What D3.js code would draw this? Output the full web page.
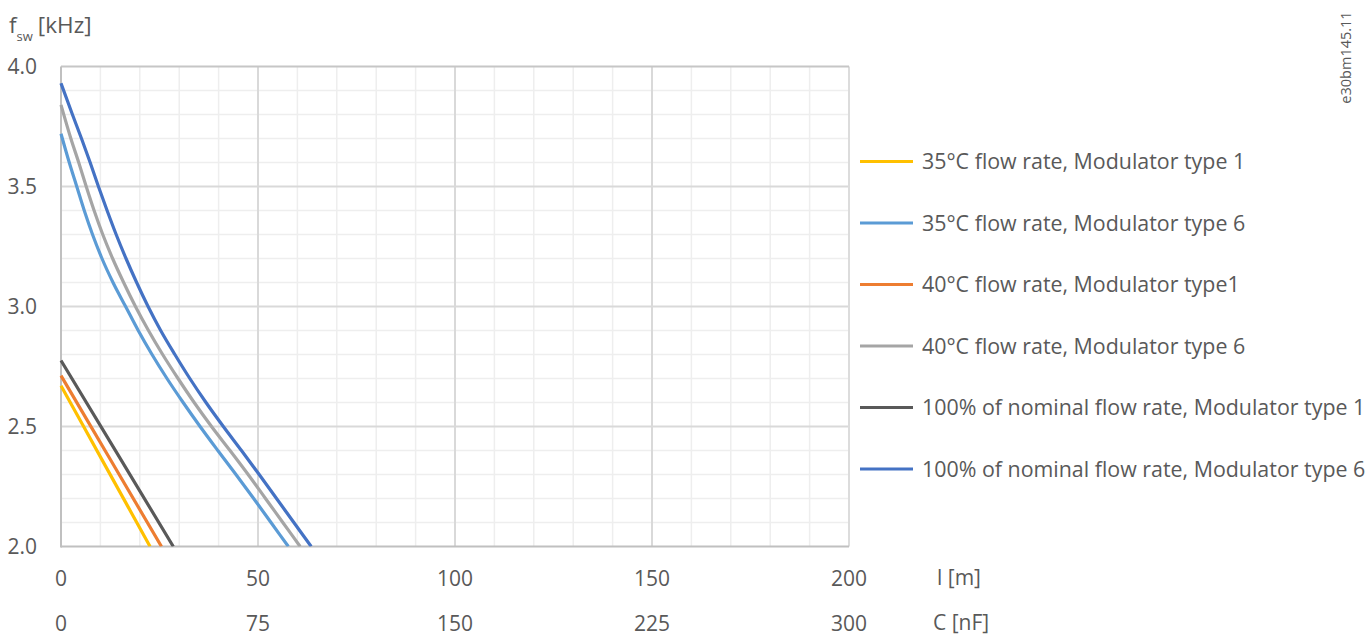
<!DOCTYPE html>
<html>
<head>
<meta charset="utf-8">
<script src="https://cdn.jsdelivr.net/npm/d3@7"></script>
<style>
  html, body { margin: 0; padding: 0; background: #fff; }
  svg { display: block; font-family: "Open Sans", "Noto Sans", sans-serif; }
  text { fill: #595959; }
</style>
</head>
<body>
<svg id="chart" width="1370" height="637"></svg>
<script>
// Axis ticks
const lengthTicks = [0, 50, 100, 150, 200];          // cable length l [m]
const capTicks = [0, 75, 150, 225, 300];             // cable capacitance C [nF]
const fswTicks = [2.0, 2.5, 3.0, 3.5, 4.0];          // switching frequency [kHz]

// Series: cable length [m] against max. switching frequency [kHz]
const seriesNames = [
  "35°C flow rate, Modulator type 1",
  "35°C flow rate, Modulator type 6",
  "40°C flow rate, Modulator type1",
  "40°C flow rate, Modulator type 6",
  "100% of nominal flow rate, Modulator type 1",
  "100% of nominal flow rate, Modulator type 6"
];
const seriesColors = ["#FFC000", "#5B9BD5", "#ED7D31", "#A5A5A5", "#595959", "#4472C4"];

const flow35Type1 = [[0, 2.67], [11.3, 2.335], [22.6, 2.0]];
const flow35Type6 = [[0, 3.72], [2.1, 3.6], [4.0, 3.5], [5.9, 3.4], [8.0, 3.3], [10.4, 3.2],
  [13.2, 3.1], [16.4, 3.0], [19.6, 2.9], [23.1, 2.8], [26.9, 2.7], [31.0, 2.6], [35.3, 2.5],
  [39.8, 2.4], [44.4, 2.3], [48.9, 2.2], [53.3, 2.1], [57.7, 2.0]];
const flow40Type1 = [[0, 2.712], [12.75, 2.356], [25.5, 2.0]];
const flow40Type6 = [[0, 3.84], [2.5, 3.7], [4.5, 3.6], [6.4, 3.5], [8.4, 3.4], [10.6, 3.3],
  [13.1, 3.2], [15.9, 3.1], [18.9, 3.0], [22.2, 2.9], [25.8, 2.8], [29.7, 2.7], [33.8, 2.6],
  [38.2, 2.5], [42.9, 2.4], [47.5, 2.3], [51.9, 2.2], [56.3, 2.1], [60.7, 2.0]];
const nominalType1 = [[0, 2.775], [14.25, 2.388], [28.5, 2.0]];
const nominalType6 = [[0, 3.93], [2.9, 3.8], [5.2, 3.7], [7.4, 3.6], [9.5, 3.5],
  [11.7, 3.4], [14.0, 3.3], [16.5, 3.2], [19.2, 3.1], [22.1, 3.0], [25.3, 2.9], [28.9, 2.8],
  [32.7, 2.7], [36.8, 2.6], [41.2, 2.5], [45.8, 2.4], [50.3, 2.3], [54.7, 2.2], [59.1, 2.1],
  [63.5, 2.0]];

const seriesData = [flow35Type1, flow35Type6, flow40Type1, flow40Type6, nominalType1, nominalType6];

const svg = d3.select("#chart");
const plot = { left: 61, right: 849, top: 66.5, bottom: 546.5 };

const x = d3.scaleLinear().domain([0, 200]).range([plot.left, plot.right]);
const xCap = d3.scaleLinear().domain([0, 300]).range([plot.left, plot.right]);
const y = d3.scaleLinear().domain([2, 4]).range([plot.bottom, plot.top]);

// Minor grid
const grid = svg.append("g");
grid.selectAll("line.vminor")
  .data(d3.range(10, 200, 10).filter(v => v % 50 !== 0))
  .join("line")
  .attr("x1", d => x(d)).attr("x2", d => x(d))
  .attr("y1", plot.top).attr("y2", plot.bottom)
  .attr("stroke", "#eeeeee").attr("stroke-width", 1.5);
grid.selectAll("line.hminor")
  .data(d3.range(21, 40, 1).map(v => v / 10).filter(v => Math.round(v * 10) % 5 !== 0))
  .join("line")
  .attr("x1", plot.left).attr("x2", plot.right)
  .attr("y1", d => y(d)).attr("y2", d => y(d))
  .attr("stroke", "#eeeeee").attr("stroke-width", 1.5);

// Major grid
grid.append("g").selectAll("line")
  .data([50, 100, 150])
  .join("line")
  .attr("x1", d => x(d)).attr("x2", d => x(d))
  .attr("y1", plot.top).attr("y2", plot.bottom)
  .attr("stroke", "#d9d9d9").attr("stroke-width", 2);
grid.append("g").selectAll("line")
  .data([2.5, 3.0, 3.5])
  .join("line")
  .attr("x1", plot.left).attr("x2", plot.right)
  .attr("y1", d => y(d)).attr("y2", d => y(d))
  .attr("stroke", "#d9d9d9").attr("stroke-width", 2);

// Frame
grid.append("line")
  .attr("x1", x(200)).attr("x2", x(200)).attr("y1", plot.top).attr("y2", plot.bottom)
  .attr("stroke", "#dcdcdc").attr("stroke-width", 2);
grid.append("line")
  .attr("x1", plot.left).attr("x2", plot.right).attr("y1", plot.top).attr("y2", plot.top)
  .attr("stroke", "#c6c6c6").attr("stroke-width", 2);
grid.append("line")
  .attr("x1", plot.left).attr("x2", plot.right).attr("y1", plot.bottom).attr("y2", plot.bottom)
  .attr("stroke", "#c0c0c0").attr("stroke-width", 2);
grid.append("line")
  .attr("x1", plot.left).attr("x2", plot.left).attr("y1", plot.top).attr("y2", plot.bottom + 1)
  .attr("stroke", "#c0c0c0").attr("stroke-width", 2);

// Curves
svg.append("clipPath").attr("id", "plotClip")
  .append("rect")
  .attr("x", plot.left - 2).attr("y", plot.top)
  .attr("width", plot.right - plot.left + 4).attr("height", plot.bottom - plot.top);

const line = d3.line()
  .x(d => x(d[0]))
  .y(d => y(d[1]))
  .curve(d3.curveMonotoneX);

svg.append("g").attr("clip-path", "url(#plotClip)")
  .selectAll("path")
  .data(seriesData)
  .join("path")
  .attr("d", line)
  .attr("fill", "none")
  .attr("stroke", (d, i) => seriesColors[i])
  .attr("stroke-width", 3.2);

// Y axis labels
svg.append("g").selectAll("text")
  .data(fswTicks)
  .join("text")
  .attr("x", 37).attr("y", d => y(d))
  .attr("dy", "0.35em")
  .attr("text-anchor", "end")
  .attr("font-size", 21)
  .text(d => d.toFixed(1));

const yTitle = svg.append("text").attr("x", 9).attr("y", 33).attr("font-size", 22.5);
yTitle.append("tspan").text("f");
yTitle.append("tspan").attr("font-size", 13).attr("dy", 8).text("sw");
yTitle.append("tspan").attr("dy", -8).attr("dx", 5).text("[kHz]");

// X axis labels (length and capacitance)
svg.append("g").selectAll("text")
  .data(lengthTicks)
  .join("text")
  .attr("x", d => x(d)).attr("y", 585.5)
  .attr("text-anchor", "middle")
  .attr("font-size", 21)
  .text(d => d);
svg.append("text").attr("x", 937).attr("y", 584.5)
  .attr("font-size", 21).text("l [m]");

svg.append("g").selectAll("text")
  .data(capTicks)
  .join("text")
  .attr("x", d => xCap(d)).attr("y", 630.5)
  .attr("text-anchor", "middle")
  .attr("font-size", 21)
  .text(d => d);
svg.append("text").attr("x", 933).attr("y", 630)
  .attr("font-size", 21).text("C [nF]");

// Legend
const legend = svg.append("g");
const rows = legend.selectAll("g")
  .data(seriesNames)
  .join("g")
  .attr("transform", (d, i) => `translate(860, ${161.5 + i * 61.5})`);
rows.append("line")
  .attr("x1", 0).attr("x2", 53)
  .attr("stroke", (d, i) => seriesColors[i])
  .attr("stroke-width", 3.2);
rows.append("text")
  .attr("x", 62).attr("dy", "0.35em")
  .attr("font-size", 21.4)
  .text(d => d);

// Document reference code
svg.append("text")
  .attr("transform", "translate(1351, 57.5) rotate(-90)")
  .attr("text-anchor", "middle")
  .attr("font-size", 14.5)
  .text("e30bm145.11");
</script>
</body>
</html>
